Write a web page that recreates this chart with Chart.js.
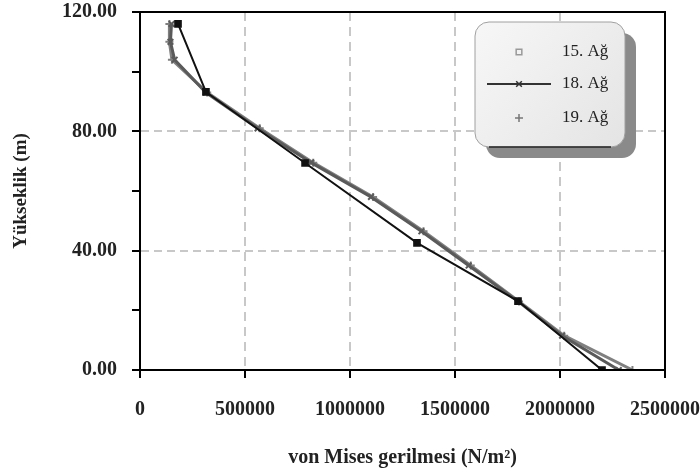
<!DOCTYPE html>
<html>
<head>
<meta charset="utf-8">
<script src="https://cdn.jsdelivr.net/npm/chart.js@4"></script>
<style>
  html, body { margin: 0; padding: 0; background: #fff; }
  #wrap { width: 700px; height: 473px; }
</style>
</head>
<body>
<div id="wrap"><canvas id="chart" width="700" height="473"></canvas></div>
<script>
// heights (m) and von Mises stress (N/m2)
const seriesNames = ["15. Ağ", "18. Ağ", "19. Ağ"];
const heights15 = [116, 93.2, 69.4, 42.6, 23.1, 0];
const stress15 = [181000, 314000, 786000, 1319000, 1800000, 2200000];
const heightsGray = [116, 110, 104, 93, 81, 69.5, 58, 46.5, 35, 23, 11.5, 0];
const stress18 = [150000, 145000, 165000, 314000, 560000, 815000, 1100000, 1340000, 1565000, 1800000, 2010000, 2280000];
const stress19 = [140000, 140000, 152000, 320000, 570000, 825000, 1110000, 1350000, 1575000, 1805000, 2020000, 2345000];
const xTicks = [0, 500000, 1000000, 1500000, 2000000, 2500000];
const yTicks = [0, 40, 80, 120];

const serif = "'Liberation Serif', 'Times New Roman', serif";

function pts(xs, ys) {
  return xs.map((x, i) => ({ x: x, y: ys[i] }));
}

// frame round the plot + legend box inside the plot
const framePlugin = {
  id: "frame",
  afterDraw(chart) {
    const ctx = chart.ctx;
    const a = chart.chartArea;
    ctx.save();
    ctx.strokeStyle = "#000";
    ctx.lineWidth = 2;
    ctx.strokeRect(a.left, a.top, a.right - a.left, a.bottom - a.top);

    // legend box
    const bx = 475, by = 22, bw = 150, bh = 125, r = 14;
    function rr(x, y) {
      ctx.beginPath();
      ctx.moveTo(x + r, y);
      ctx.arcTo(x + bw, y, x + bw, y + bh, r);
      ctx.arcTo(x + bw, y + bh, x, y + bh, r);
      ctx.arcTo(x, y + bh, x, y, r);
      ctx.arcTo(x, y, x + bw, y, r);
      ctx.closePath();
    }
    ctx.fillStyle = "#8a8a8a";
    rr(bx + 11, by + 11);
    ctx.fill();
    const g = ctx.createLinearGradient(bx, by, bx + bw, by + bh);
    g.addColorStop(0, "#f7f7f7");
    g.addColorStop(1, "#e4e4e4");
    ctx.fillStyle = g;
    rr(bx, by);
    ctx.fill();
    ctx.strokeStyle = "#a0a0a0";
    ctx.lineWidth = 1;
    ctx.stroke();
    ctx.strokeStyle = "#222";
    ctx.lineWidth = 1.5;
    ctx.beginPath();
    ctx.moveTo(bx + r, by + bh);
    ctx.lineTo(bx + bw - r, by + bh);
    ctx.stroke();

    const rows = [52, 84, 118];
    const mx = 519;
    ctx.font = "17px " + serif;
    ctx.textBaseline = "middle";
    ctx.textAlign = "left";
    rows.forEach((y, i) => {
      const ds = chart.data.datasets[i];
      if (i === 1) {
        ctx.strokeStyle = "#333";
        ctx.lineWidth = 2;
        ctx.beginPath();
        ctx.moveTo(487, y);
        ctx.lineTo(551, y);
        ctx.stroke();
      }
      ctx.strokeStyle = i === 0 ? "#999" : (i === 1 ? "#333" : "#777");
      ctx.fillStyle = "rgba(0,0,0,0)";
      ctx.lineWidth = 1.5;
      Chart.helpers.drawPoint(ctx, {
        pointStyle: ds.pointStyle,
        radius: 4,
        borderWidth: 1.5
      }, mx, y);
      ctx.fillStyle = "#222";
      ctx.fillText(seriesNames[i], 562, y);
    });
    ctx.restore();
  }
};

const ctx = document.getElementById("chart").getContext("2d");
const chart = new Chart(ctx, {
  type: "line",
  data: {
    datasets: [
      {
        label: seriesNames[0],
        data: pts(stress15, heights15),
        borderColor: "#111",
        backgroundColor: "#111",
        borderWidth: 2,
        pointStyle: "rect",
        pointRadius: 4,
        order: 1
      },
      {
        label: seriesNames[1],
        data: pts(stress18, heightsGray),
        borderColor: "#5a5a5a",
        backgroundColor: "#5a5a5a",
        borderWidth: 3,
        pointStyle: "crossRot",
        pointRadius: 4,
        pointBorderWidth: 2,
        order: 2
      },
      {
        label: seriesNames[2],
        data: pts(stress19, heightsGray),
        borderColor: "#808080",
        backgroundColor: "#808080",
        borderWidth: 3,
        pointStyle: "cross",
        pointRadius: 4,
        pointBorderWidth: 2,
        order: 3
      }
    ]
  },
  options: {
    responsive: false,
    animation: false,
    devicePixelRatio: 1,
    layout: { padding: { top: 12, right: 35, left: 0, bottom: 0 } },
    elements: { line: { tension: 0 } },
    plugins: {
      legend: { display: false },
      tooltip: { enabled: false }
    },
    scales: {
      x: {
        type: "linear",
        min: xTicks[0],
        max: xTicks[xTicks.length - 1],
        afterFit(scale) {
          scale.height = 103;
          scale.paddingLeft = 0;
          scale.paddingRight = 0;
        },
        afterBuildTicks(scale) { scale.ticks = xTicks.map(v => ({ value: v })); },
        border: { display: true, color: "#000", width: 2, dash: [9, 6] },
        grid: {
          color: c => {
            const v = c.tick ? c.tick.value : null;
            return (v === null || v === xTicks[0] || v === xTicks[xTicks.length - 1]) ? "rgba(0,0,0,0)" : "#c8c8c8";
          },
          lineWidth: 2,
          tickColor: "#000",
          tickLength: 8,
          tickWidth: 2,
          tickBorderDash: []
        },
        ticks: {
          autoSkip: false,
          maxRotation: 0,
          padding: 20,
          color: "#222",
          font: { family: serif, size: 20, weight: "bold" },
          callback: v => String(v)
        },
        title: {
          display: true,
          text: "von Mises gerilmesi (N/m²)",
          color: "#222",
          font: { family: serif, size: 20, weight: "bold" },
          padding: { top: 0, bottom: 3 }
        }
      },
      y: {
        type: "linear",
        min: yTicks[0],
        max: yTicks[yTicks.length - 1],
        afterFit(scale) {
          scale.width = 140;
          scale.paddingTop = 0;
          scale.paddingBottom = 0;
        },
        border: { display: true, color: "#000", width: 2, dash: [8, 5] },
        grid: {
          color: c => {
            const v = c.tick ? c.tick.value : null;
            return (v !== null && yTicks.includes(v) && v !== 0 && v !== 120) ? "#c8c8c8" : "rgba(0,0,0,0)";
          },
          lineWidth: 2,
          tickColor: "#000",
          tickLength: 8,
          tickWidth: 2,
          tickBorderDash: []
        },
        ticks: {
          stepSize: 20,
          autoSkip: false,
          padding: 15,
          color: "#222",
          font: { family: serif, size: 20, weight: "bold" },
          callback: v => yTicks.includes(v) ? v.toFixed(2) : ""
        },
        title: {
          display: true,
          text: "Yükseklik (m)",
          color: "#222",
          font: { family: serif, size: 19, weight: "bold" },
          padding: { top: 10, bottom: 0 }
        }
      }
    }
  },
  plugins: [framePlugin]
});
</script>
</body>
</html>
